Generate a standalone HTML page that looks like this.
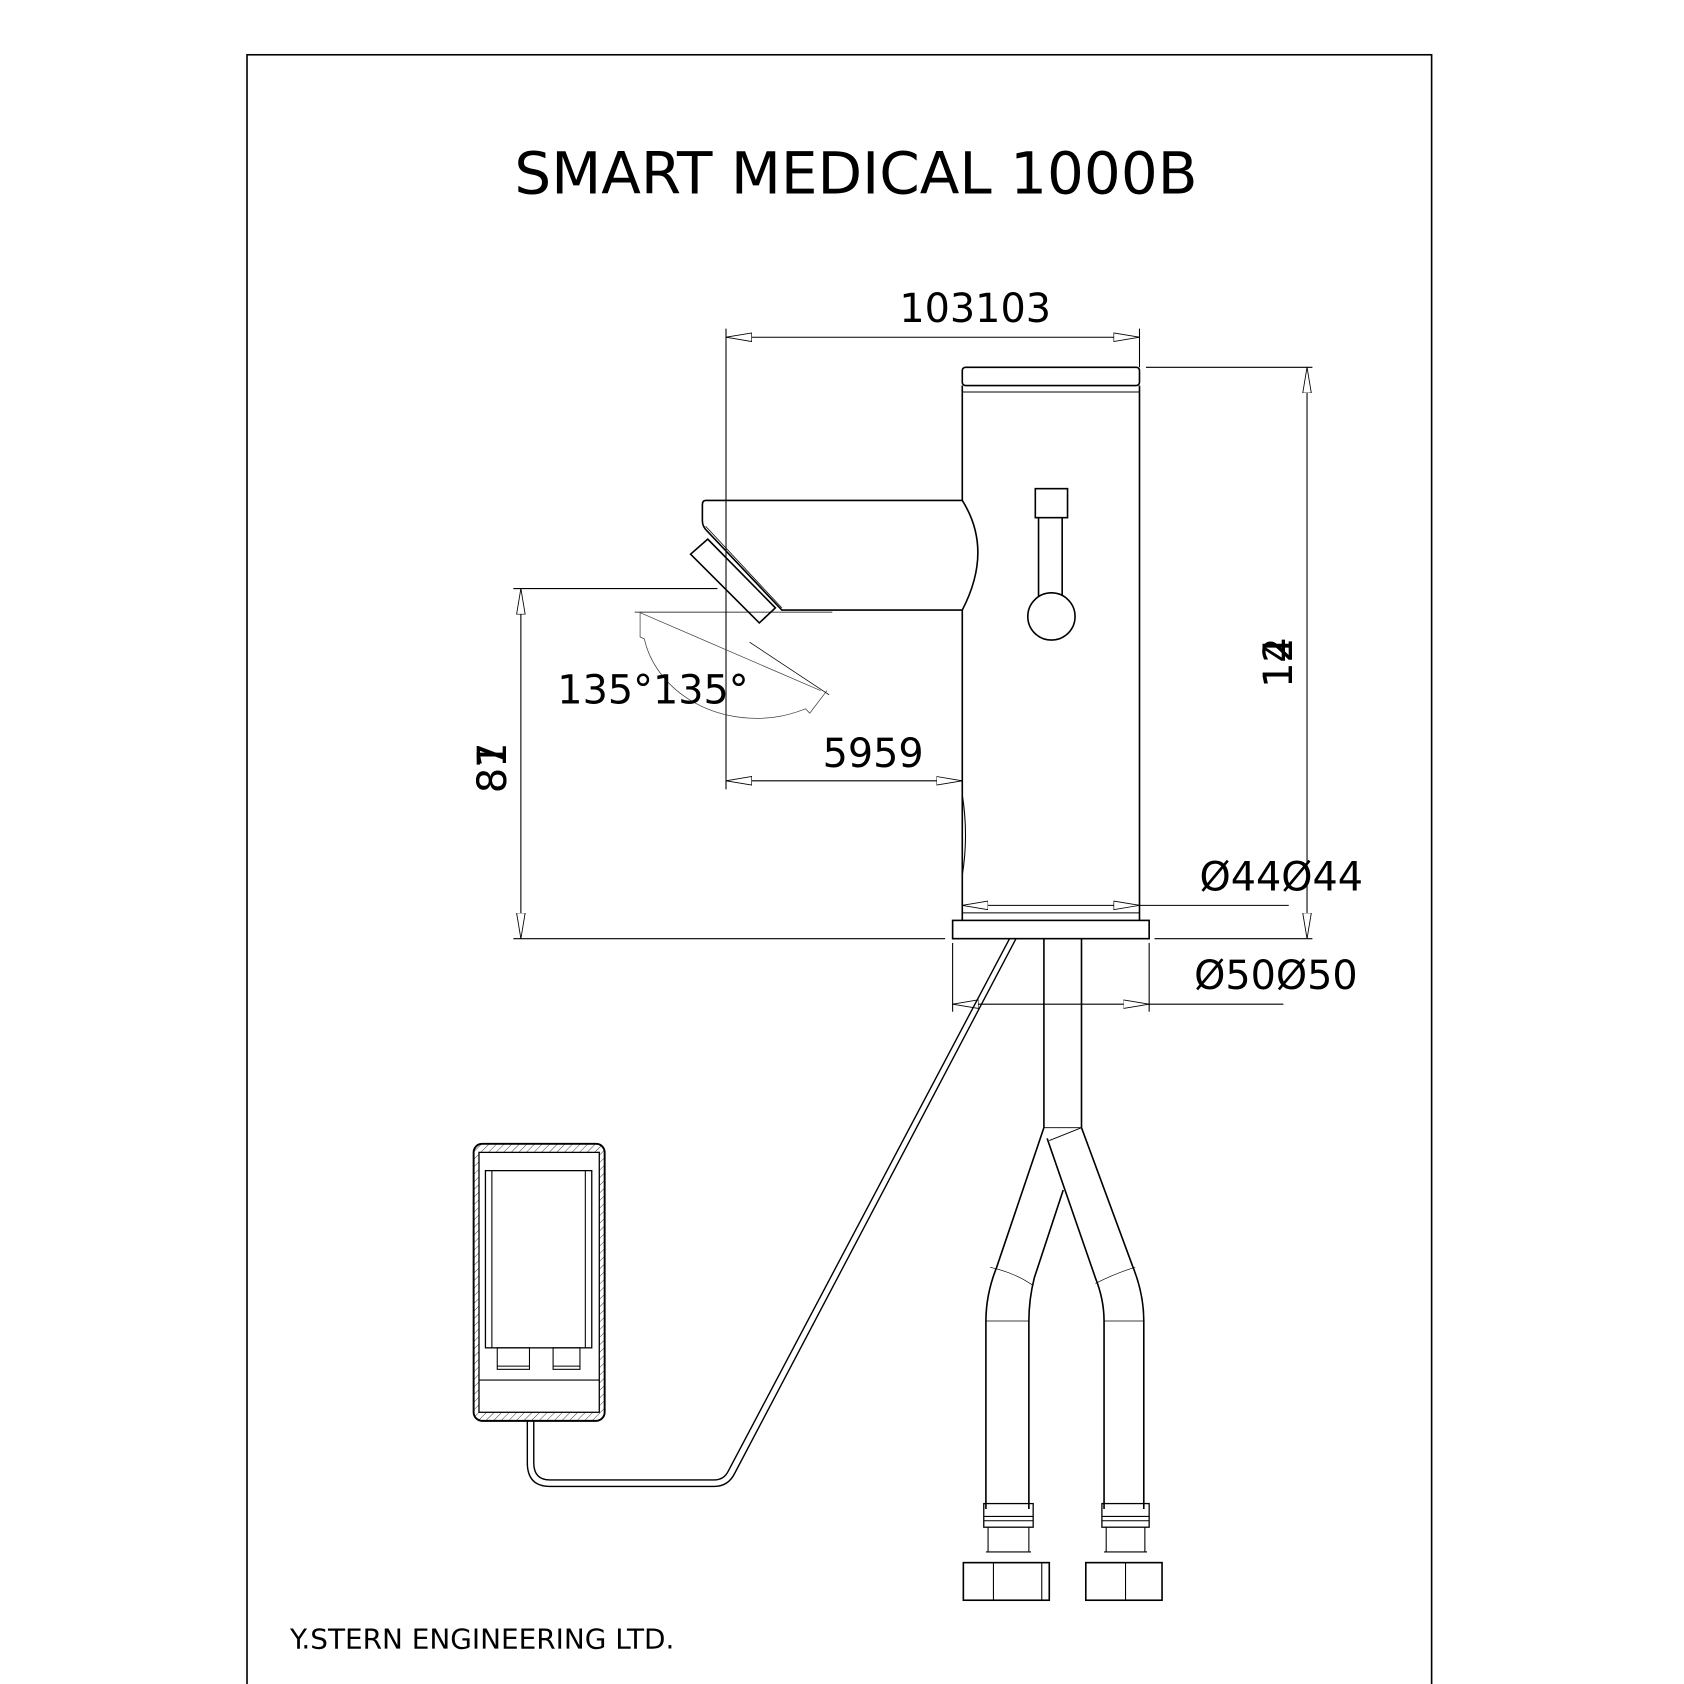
<!DOCTYPE html>
<html><head><style>html,body{margin:0;padding:0;background:#fff}svg{display:block}</style></head>
<body>
<svg width="1684" height="1684" viewBox="0 0 1568 1568" xmlns="http://www.w3.org/2000/svg" font-family="'DejaVu Sans','Liberation Sans',sans-serif">
<defs>
<marker id="a" viewBox="0 0 24 10" refX="24" refY="5" markerWidth="24" markerHeight="10" markerUnits="userSpaceOnUse" orient="auto-start-reverse"><path d="M0,1 L24,5 L0,9 Z" fill="#fff" stroke="#000" stroke-width="0.8"/></marker>
<pattern id="h" width="5" height="5" patternUnits="userSpaceOnUse" patternTransform="rotate(45)"><line x1="0" y1="0" x2="0" y2="5" stroke="#000" stroke-width="0.7"/></pattern>
</defs>
<rect x="230" y="51" width="1103" height="1530" fill="none" stroke="#000" stroke-width="1.5"/>
<text x="797" y="180" font-size="54" text-anchor="middle">SMART MEDICAL 1000B</text>
<g stroke="#000" fill="none" stroke-width="1">
<line x1="676" y1="306" x2="676" y2="735"/>
<line x1="1061" y1="306" x2="1061" y2="342"/>
<line x1="676" y1="314" x2="1061" y2="314" marker-start="url(#a)" marker-end="url(#a)"/>
<line x1="1067" y1="342" x2="1222" y2="342"/>
<line x1="1075" y1="874" x2="1222" y2="874"/>
<line x1="1217" y1="342" x2="1217" y2="874" marker-start="url(#a)" marker-end="url(#a)"/>
<line x1="478" y1="548" x2="668" y2="548"/>
<line x1="478" y1="874" x2="880" y2="874"/>
<line x1="485" y1="548" x2="485" y2="874" marker-start="url(#a)" marker-end="url(#a)"/>
<line x1="676" y1="727" x2="896" y2="727" marker-start="url(#a)" marker-end="url(#a)"/>
<line x1="896" y1="843" x2="1061" y2="843" marker-start="url(#a)" marker-end="url(#a)"/>
<line x1="1061" y1="843" x2="1200" y2="843"/>
<line x1="887" y1="878" x2="887" y2="942"/>
<line x1="1070" y1="878" x2="1070" y2="942"/>
<line x1="887" y1="935" x2="1070" y2="935" marker-start="url(#a)" marker-end="url(#a)"/>
<line x1="1070" y1="935" x2="1195" y2="935"/>
<g stroke-width="0.7" stroke="#444">
<line x1="591" y1="570" x2="775" y2="570" stroke="#000"/>
<path d="M595,570 L764,643"/>
<path d="M596,570 L596,593 L600,595 C610,640 660,675 720,668 C735,666 745,662 750,660 L754,664 L770,643"/>
<path d="M698,598 L772,647" stroke="#000"/>
</g>
<rect x="896" y="342" width="165" height="17" rx="3" stroke-width="1.5"/>
<line x1="896" y1="365" x2="1061" y2="365"/>
<path d="M896,359 L896,466 M896,568 L896,857 M1061,359 L1061,857" stroke-width="1.5"/>
<path d="M896,740 Q902,778 896,815" />
<rect x="887" y="857" width="183" height="17" stroke-width="1.5"/>
<line x1="896" y1="850" x2="1061" y2="850"/>
<path d="M657,466 L896,466 Q925,512 896,568 L728,568 L658,494 Q654,490 654,485 L654,470 Q654,466 657,466 Z" stroke-width="1.5"/>
<line x1="657" y1="490" x2="728" y2="566" stroke-width="0.7"/>
<path d="M643,516 L659,502 L722,566 L707,580 Z" stroke-width="1.5"/>
<rect x="964" y="455" width="30" height="27" stroke-width="1.5"/>
<path d="M967,482 L967,555 M989,482 L989,555" stroke-width="1.5"/>
<circle cx="979" cy="574" r="22" stroke-width="1.5"/>
<path d="M940,874 L678,1370 Q674,1378 665,1378 L512,1378 Q497,1378 497,1362 L497,1323" stroke-width="1.3"/>
<path d="M946,874 L684,1372 Q678,1384 665,1384 L512,1384 Q491,1384 491,1362 L491,1323" stroke-width="1.3"/>
<rect x="441" y="1065" width="122" height="258" rx="8" stroke-width="1.8"/>
<rect x="441" y="1065" width="122" height="258" rx="8" fill="url(#h)" stroke="none"/>
<rect x="446" y="1073" width="112" height="242" fill="#fff" stroke-width="1.2"/>
<rect x="452" y="1090" width="99" height="165" stroke-width="1.2"/>
<path d="M458,1090 L458,1255 M545,1090 L545,1255"/>
<path d="M446,1285 L558,1285"/>
<rect x="463" y="1255" width="30" height="20"/><rect x="515" y="1255" width="25" height="20"/>
<path d="M463,1272 L493,1272 M515,1272 L540,1272"/>
<g stroke-width="1.5">
<path d="M972,874 L972,1050 M1007,874 L1007,1050"/>
<path d="M972,1050 L928,1180 Q918,1205 918,1230 L918,1405"/>
<path d="M990,1108 L963,1190 Q958,1210 958,1230 L958,1405"/>
<path d="M1007,1050 L1055,1180 Q1065,1205 1065,1230 L1065,1405"/>
<path d="M975,1060 L1020,1190 Q1028,1210 1028,1230 L1028,1405"/>
</g>
<path d="M972,1050 L1007,1050 M977,1062 L1007,1050" stroke-width="0.8"/>
<path d="M922,1180 Q945,1185 962,1197 M1020,1195 Q1040,1185 1057,1180 M918,1230 L958,1230 M1028,1230 L1065,1230" stroke-width="0.6"/>
<rect x="916" y="1400" width="46" height="22" stroke-width="1.2"/>
<path d="M916,1412 L962,1412 M916,1416 L962,1416 M920,1422 L920,1445 M958,1422 L958,1445 M918,1445 L960,1445"/>
<rect x="1026" y="1400" width="44" height="22" stroke-width="1.2"/>
<path d="M1026,1412 L1070,1412 M1026,1416 L1070,1416 M1030,1422 L1030,1445 M1066,1422 L1066,1445 M1028,1445 L1068,1445"/>
<rect x="897" y="1455" width="80" height="35" stroke-width="1.5"/>
<line x1="925" y1="1455" x2="925" y2="1490"/><line x1="970" y1="1455" x2="970" y2="1490"/>
<rect x="1011" y="1455" width="71" height="35" stroke-width="1.5"/>
<line x1="1048" y1="1455" x2="1048" y2="1490"/>
</g>
<g font-size="37" fill="#000">
<text x="908" y="300" text-anchor="middle">103103</text>
<text x="813" y="714" text-anchor="middle">5959</text>
<text x="608" y="655" text-anchor="middle">135°135°</text>
<text x="1193" y="829" text-anchor="middle">Ø44Ø44</text>
<text x="1188" y="921" text-anchor="middle">Ø50Ø50</text>
<text transform="translate(1203,617) rotate(-90)" text-anchor="middle">12</text>
<text transform="translate(1203,617) rotate(-90)" text-anchor="middle">14</text>
<text transform="translate(471,715) rotate(-90)" text-anchor="middle">87</text>
<text transform="translate(471,715) rotate(-90)" text-anchor="middle">81</text>
</g>
<text x="270" y="1535" font-size="26">Y.STERN ENGINEERING LTD.</text>
</svg>
</body></html>
